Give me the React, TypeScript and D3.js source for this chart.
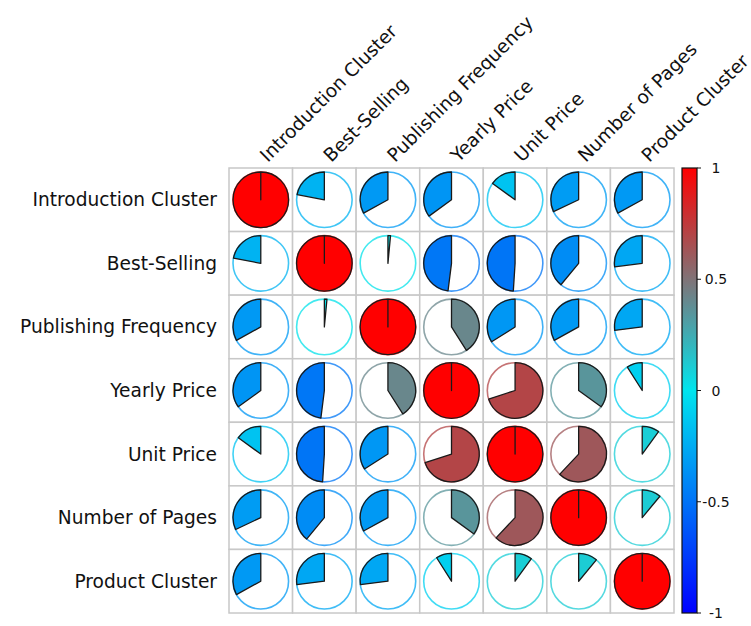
import React, { useEffect, useRef } from 'react';
import * as d3 from 'd3';

// variable names (rows and columns)
const variables = [
  'Introduction Cluster',
  'Best-Selling',
  'Publishing Frequency',
  'Yearly Price',
  'Unit Price',
  'Number of Pages',
  'Product Cluster',
];

// correlation matrix, one row per variable
const rowIntroduction = [1, -0.22, -0.33, -0.35, -0.15, -0.32, -0.33];
const rowBestSelling = [-0.22, 1, 0.015, -0.48, -0.49, -0.39, -0.27];
const rowPublishing = [-0.33, 0.015, 1, 0.41, -0.34, -0.33, -0.27];
const rowYearly = [-0.35, -0.48, 0.41, 1, 0.7, 0.35, -0.09];
const rowUnit = [-0.15, -0.49, -0.34, 0.7, 1, 0.62, 0.1];
const rowPages = [-0.32, -0.39, -0.33, 0.35, 0.62, 1, 0.11];
const rowProduct = [-0.33, -0.27, -0.27, -0.09, 0.1, 0.11, 1];

const colorbarTicks = [1, 0.5, 0, -0.5, -1];

const W = 751;
const H = 626;

export default function App() {
  const svgRef = useRef<SVGSVGElement>(null);

  useEffect(() => {
    if (!svgRef.current) return;
    const svg = d3.select(svgRef.current);
    svg.selectAll('*').remove();

    const matrix = [rowIntroduction, rowBestSelling, rowPublishing, rowYearly, rowUnit, rowPages, rowProduct];
    const n = variables.length;

    const gridLeft = 229;
    const gridTop = 168;
    const gridSize = 445;
    const font = 'DejaVu Sans, sans-serif';

    const band = d3.scaleBand<number>().domain(d3.range(n)).range([0, gridSize]);
    const cell = band.bandwidth();
    const R = cell * 0.437;

    const color = d3
      .scaleLinear<string>()
      .domain([-1, 0, 1])
      .range(['#0000ff', '#00e5ee', '#ff0000'])
      .interpolate(d3.interpolateRgb);

    const g = svg.append('g').attr('transform', `translate(${gridLeft},${gridTop})`);

    // grid cells
    const cells = matrix.flatMap((row, i) => row.map((v, j) => ({ i, j, v })));
    g.selectAll('rect.cell')
      .data(cells)
      .enter()
      .append('rect')
      .attr('x', (d) => band(d.j)!)
      .attr('y', (d) => band(d.i)!)
      .attr('width', cell)
      .attr('height', cell)
      .attr('fill', 'white')
      .attr('stroke', '#c8c8c8')
      .attr('stroke-width', 1.5);

    const pies = g
      .selectAll('g.pie')
      .data(cells)
      .enter()
      .append('g')
      .attr('transform', (d) => `translate(${band(d.j)! + cell / 2},${band(d.i)! + cell / 2})`);

    // outer ring in value colour
    pies
      .append('circle')
      .attr('r', R)
      .attr('fill', 'white')
      .attr('stroke', (d) => color(d.v))
      .attr('stroke-opacity', 0.75)
      .attr('stroke-width', 1.6);

    // wedge: clockwise for positive, anticlockwise for negative
    pies
      .append('path')
      .attr('d', (d) => {
        const p = d3.path();
        const theta = 2 * Math.PI * d.v;
        p.moveTo(0, 0);
        p.lineTo(0, -R);
        p.arc(0, 0, R, -Math.PI / 2, -Math.PI / 2 + theta, theta < 0);
        p.closePath();
        return p.toString();
      })
      .attr('fill', (d) => color(d.v))
      .attr('stroke', '#1a1a1a')
      .attr('stroke-width', 1.3)
      .attr('stroke-linejoin', 'round');

    // row labels
    svg
      .append('g')
      .selectAll('text')
      .data(variables)
      .enter()
      .append('text')
      .attr('x', gridLeft - 12)
      .attr('y', (_, i) => gridTop + band(i)! + cell / 2)
      .attr('text-anchor', 'end')
      .attr('dominant-baseline', 'central')
      .attr('font-family', font)
      .attr('font-size', 18.6)
      .attr('fill', '#111')
      .text((d) => d);

    // column labels
    svg
      .append('g')
      .selectAll('text')
      .data(variables)
      .enter()
      .append('text')
      .attr('transform', (_, i) => `translate(${gridLeft + band(i)! + cell / 2 + 7},${gridTop - 5}) rotate(-45)`)
      .attr('text-anchor', 'start')
      .attr('font-family', font)
      .attr('font-size', 18.6)
      .attr('fill', '#111')
      .text((d) => d);

    // colorbar
    const cbX = 682;
    const cbW = 15;
    const cbScale = d3.scaleLinear().domain([-1, 1]).range([gridTop + gridSize, gridTop]);

    const defs = svg.append('defs');
    const grad = defs
      .append('linearGradient')
      .attr('id', 'cbgrad')
      .attr('x1', 0)
      .attr('y1', 1)
      .attr('x2', 0)
      .attr('y2', 0);
    d3.range(-1, 1.001, 0.1).forEach((t) => {
      grad
        .append('stop')
        .attr('offset', `${((t + 1) / 2) * 100}%`)
        .attr('stop-color', color(t));
    });

    svg
      .append('rect')
      .attr('x', cbX)
      .attr('y', cbScale(1))
      .attr('width', cbW)
      .attr('height', cbScale(-1) - cbScale(1))
      .attr('fill', 'url(#cbgrad)')
      .attr('stroke', '#111')
      .attr('stroke-width', 1.2);

    const tickG = svg.append('g');
    colorbarTicks.forEach((t) => {
      tickG
        .append('line')
        .attr('x1', cbX + cbW)
        .attr('x2', cbX + cbW + 4)
        .attr('y1', cbScale(t))
        .attr('y2', cbScale(t))
        .attr('stroke', '#111')
        .attr('stroke-width', 1);
      tickG
        .append('text')
        .attr('x', 716)
        .attr('y', cbScale(t))
        .attr('text-anchor', 'middle')
        .attr('dominant-baseline', 'central')
        .attr('font-family', font)
        .attr('font-size', 14)
        .attr('fill', '#111')
        .text(String(t));
    });
  }, []);

  return (
    <div style={{ position: 'absolute', left: 0, top: 0 }}>
      <svg ref={svgRef} width={W} height={H} style={{ display: 'block', background: 'white' }} />
    </div>
  );
}
